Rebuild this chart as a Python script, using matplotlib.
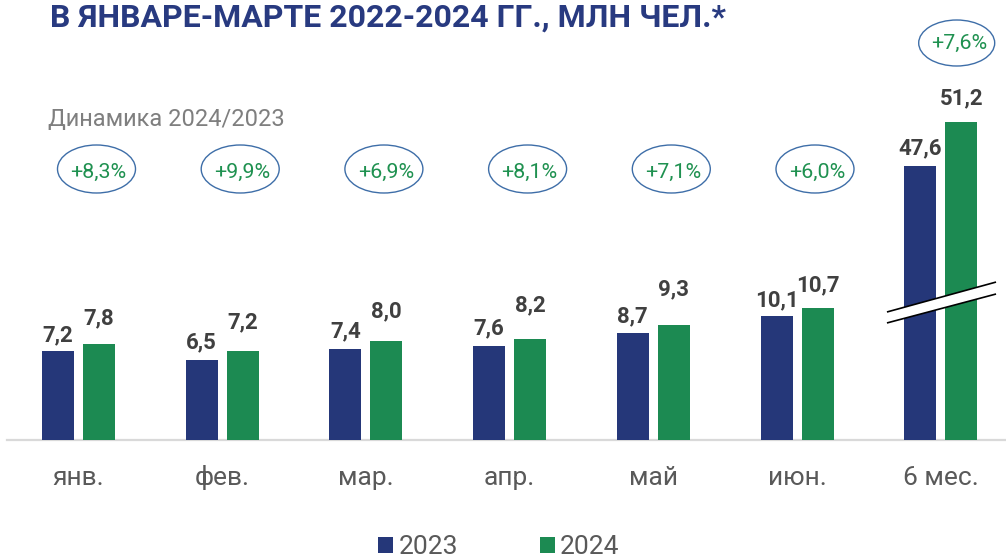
import matplotlib
matplotlib.use("Agg")
import matplotlib.pyplot as plt
from matplotlib.patches import Ellipse, Patch, Polygon
import numpy as np

# ---- data ----
categories = ["янв.", "фев.", "мар.", "апр.", "май", "июн.", "6 мес."]
values_2023 = [7.2, 6.5, 7.4, 7.6, 8.7, 10.1, 47.6]
values_2024 = [7.8, 7.2, 8.0, 8.2, 9.3, 10.7, 51.2]
growth = ["+8,3%", "+9,9%", "+6,9%", "+8,1%", "+7,1%", "+6,0%", "+7,6%"]
series_names = ["2023", "2024"]
title = "В ЯНВАРЕ-МАРТЕ 2022-2024 ГГ., МЛН ЧЕЛ.*"
subtitle = "Динамика 2024/2023"

# ---- style / layout ----
BLUE = "#253779"
GREEN = "#1c8a52"
GREEN_TXT = "#1f9150"
ELL_EDGE = "#3e6ea8"
LABEL_CLR = "#404040"
TICK_CLR = "#595959"
W, H, DPI = 1006, 558, 100
px_per_x = 143.7
px_per_y = 12.32
x0_px = 78.5
base_px = 440
break_offset = 25.4          # axis break for the "6 мес." group
break_index = 6
gap_2023_px = [10, 12, 11, 12, 10, 9, 12]
gap_2024_px = [20, 23, 24, 28, 30, 17, 18]

plt.rcParams['font.family'] = ['Roboto', 'DejaVu Sans']

fig = plt.figure(figsize=(W / DPI, H / DPI), dpi=DPI)
ax = fig.add_axes([0, 0, 1, 1])
ax.set_xlim(-x0_px / px_per_x, (W - x0_px) / px_per_x)
ax.set_ylim(-(H - base_px) / px_per_y, base_px / px_per_y)
ax.axis("off")

x = np.arange(len(categories))
bw = 32 / px_per_x
off = 20.5 / px_per_x

def shown(v, i):
    return v - break_offset if i == break_index else v

h23 = [shown(v, i) for i, v in enumerate(values_2023)]
h24 = [shown(v, i) for i, v in enumerate(values_2024)]

ax.bar(x - off, h23, width=bw, color=BLUE, zorder=2)
ax.bar(x + off, h24, width=bw, color=GREEN, zorder=2)

# baseline
ax.axhline(0, xmin=7 / W, xmax=1, color="#d9d9d9", lw=1.6, zorder=1)

# value labels
for i in range(len(categories)):
    ax.annotate(f"{values_2023[i]:.1f}".replace(".", ","), (x[i] - off, h23[i]),
                xytext=(0, gap_2023_px[i] * 0.72), textcoords="offset points",
                ha="center", va="baseline", fontsize=16, fontweight="bold",
                color=LABEL_CLR, zorder=4)
    ax.annotate(f"{values_2024[i]:.1f}".replace(".", ","), (x[i] + off, h24[i]),
                xytext=(0, gap_2024_px[i] * 0.72), textcoords="offset points",
                ha="center", va="baseline", fontsize=16, fontweight="bold",
                color=LABEL_CLR, zorder=4)

# category labels
for i, c in enumerate(categories):
    ax.text(x[i], -45 / px_per_y, c, ha="center", va="baseline",
            fontsize=19, color=TICK_CLR)

# growth ellipses
for i, g in enumerate(growth):
    if i == break_index:
        cx, cy, ew, eh = x[i] + 16 / px_per_x, (base_px - 43) / px_per_y, 76 / px_per_x, 46 / px_per_y
        ty = (base_px - 41) / px_per_y
    else:
        cx, cy, ew, eh = x[i] + 18 / px_per_x, (base_px - 169) / px_per_y, 78 / px_per_x, 48 / px_per_y
        ty = (base_px - 170) / px_per_y
    ax.add_patch(Ellipse((cx, cy), ew, eh, facecolor="none", edgecolor=ELL_EDGE,
                         lw=1.0, zorder=3))
    ax.text(cx + 2 / px_per_x, ty, g, ha="center", va="center_baseline",
            fontsize=15.4, color=GREEN_TXT, zorder=4)

# axis break marks on the last group
bx0, bx1 = x[break_index] - 0.374, x[break_index] + 0.385
up = (10.39, 12.82)
lo = (9.50, 11.85)
ax.add_patch(Polygon([(bx0, up[0]), (bx1, up[1]), (bx1, lo[1]), (bx0, lo[0])],
                     closed=True, facecolor="white", edgecolor="none", zorder=5))
ax.plot([bx0, bx1], list(up), color="black", lw=1.2, zorder=6, solid_capstyle="butt")
ax.plot([bx0, bx1], list(lo), color="black", lw=1.2, zorder=6, solid_capstyle="butt")

# title & subtitle
t = fig.text(50 / W, 1 - 27 / H, title, ha="left", va="baseline", fontsize=21,
             fontweight="bold", color="#283a80",
             family=["Roboto", "DejaVu Sans"])
r = fig.canvas.get_renderer()
tw = t.get_window_extent(renderer=r).width
t.set_fontsize(21 * 674 / tw)
fig.text(48 / W, 1 - 126 / H, subtitle, ha="left", va="baseline", fontsize=17,
         color="#7f7f7f")

# legend
handles = [Patch(facecolor=BLUE, edgecolor="none"), Patch(facecolor=GREEN, edgecolor="none")]
fig.legend(handles, series_names, loc="center", bbox_to_anchor=(499 / W, 11 / H),
           ncol=2, frameon=False, fontsize=19, labelcolor=TICK_CLR,
           handlelength=0.57, handleheight=0.57, handletextpad=0.2,
           columnspacing=3.1, borderpad=0, borderaxespad=0)

fig.savefig("out.png", dpi=DPI)
